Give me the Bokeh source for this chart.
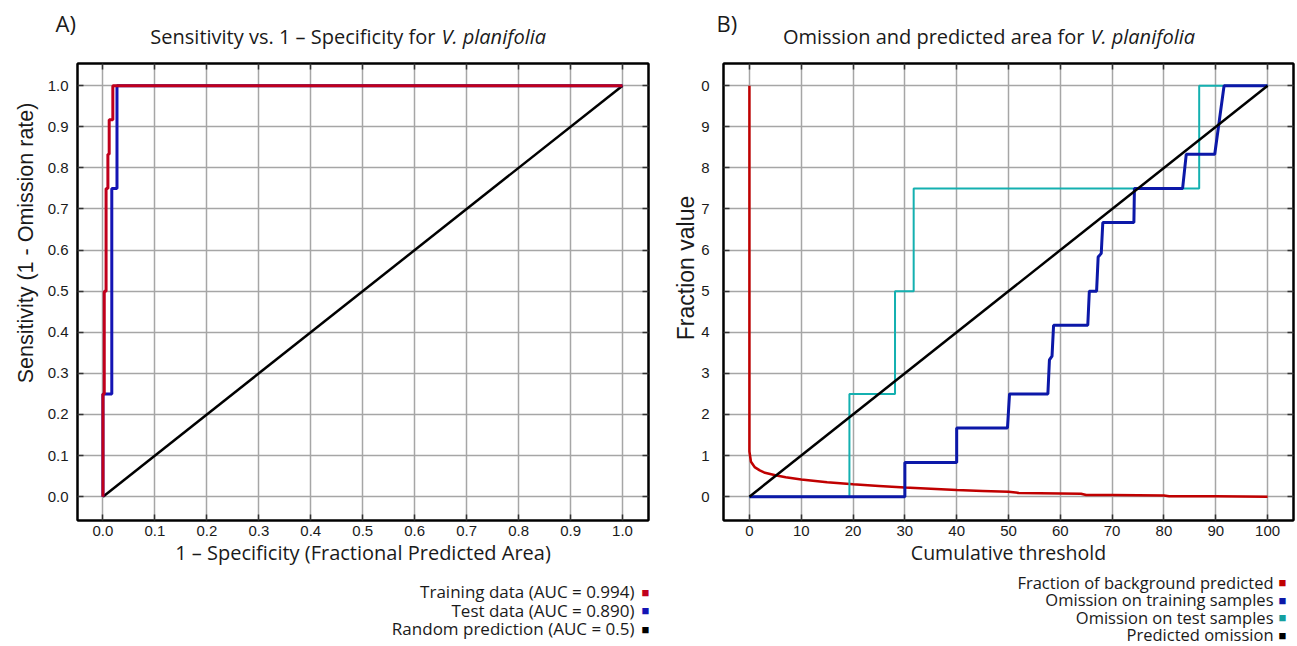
import math
from bokeh.plotting import figure
from bokeh.models import LinearAxis, FixedTicker, Range1d
from bokeh.layouts import row, column
from bokeh.core.properties import value
from bokeh.embed import file_html
from bokeh.resources import INLINE

# ---------------- Panel A data (ROC) ----------------
a_train_x = [0, 0, 0.0025, 0.0025, 0.006, 0.006, 0.0095, 0.0095, 0.012, 0.012, 0.019, 0.019, 1.0]
a_train_y = [0, 0.25, 0.25, 0.5, 0.5, 0.75, 0.75, 0.833, 0.833, 0.917, 0.917, 1.0, 1.0]
a_test_x = [0, 0, 0.017, 0.017, 0.027, 0.027, 1.0]
a_test_y = [0, 0.25, 0.25, 0.75, 0.75, 1.0, 1.0]
a_rand_x = [0, 1.0]
a_rand_y = [0, 1.0]
a_xticks = [0.0, 0.1, 0.2, 0.3, 0.4, 0.5, 0.6, 0.7, 0.8, 0.9, 1.0]
a_xtick_labels = ["0.0", "0.1", "0.2", "0.3", "0.4", "0.5", "0.6", "0.7", "0.8", "0.9", "1.0"]
a_yticks = [0.0, 0.1, 0.2, 0.3, 0.4, 0.5, 0.6, 0.7, 0.8, 0.9, 1.0]
a_ytick_labels = ["0.0", "0.1", "0.2", "0.3", "0.4", "0.5", "0.6", "0.7", "0.8", "0.9", "1.0"]
a_panel = "A)"
a_title = "Sensitivity vs. 1 \u2013 Specificity for"
a_title_it = "V. planifolia"
a_xlabel = "1 \u2013 Specificity (Fractional Predicted Area)"
a_ylabel = "Sensitivity (1 - Omission rate)"
a_legend = ["Training data (AUC = 0.994)", "Test data (AUC = 0.890)", "Random prediction (AUC = 0.5)"]

# ---------------- Panel B data (omission) ----------------
b_bg_x = [0, 0, 0.3, 1, 2, 3, 5, 7, 10, 15, 20, 25, 30, 35, 40, 45, 50, 52, 60, 64, 65, 70, 80, 81, 90, 100]
b_bg_y = [1.0, 0.11, 0.085, 0.072, 0.064, 0.058, 0.052, 0.047, 0.042, 0.035, 0.03, 0.026, 0.022,
          0.019, 0.016, 0.014, 0.012, 0.009, 0.008, 0.007, 0.004, 0.004, 0.003, 0.001, 0.001, 0.0]
b_train_x = [0, 30, 30, 40, 40, 49.8, 50.2, 57.6, 57.9, 58.4, 58.7, 65.3, 65.6, 67.0, 67.3, 67.9, 68.2,
             74.2, 74.3, 83.6, 84.3, 89.8, 91.6, 100]
b_train_y = [0, 0, 0.083, 0.083, 0.167, 0.167, 0.25, 0.25, 0.333, 0.342, 0.417, 0.417, 0.5, 0.5, 0.583,
             0.592, 0.667, 0.667, 0.75, 0.75, 0.833, 0.833, 1.0, 1.0]
b_test_x = [0, 19.3, 19.3, 28.1, 28.1, 31.7, 31.7, 86.8, 86.8, 100]
b_test_y = [0, 0, 0.25, 0.25, 0.5, 0.5, 0.75, 0.75, 1.0, 1.0]
b_pred_x = [0, 100]
b_pred_y = [0, 1.0]
b_xticks = [0, 10, 20, 30, 40, 50, 60, 70, 80, 90, 100]
b_xtick_labels = ["0", "10", "20", "30", "40", "50", "60", "70", "80", "90", "100"]
b_yticks = [0.0, 0.1, 0.2, 0.3, 0.4, 0.5, 0.6, 0.7, 0.8, 0.9, 1.0]
b_ytick_labels = ["0", "1", "2", "3", "4", "5", "6", "7", "8", "9", "0"]
b_panel = "B)"
b_title = "Omission and predicted area for"
b_title_it = "V. planifolia"
b_xlabel = "Cumulative threshold"
b_ylabel = "Fraction value"
b_legend = ["Fraction of background predicted", "Omission on training samples",
            "Omission on test samples", "Predicted omission"]

TXT = "#1a1a1a"
SANS = "Open Sans"
ARIAL = "Liberation Sans"
PAGE_H = 646
HEAD_H = 55
FRAME_BOTTOM = 520


def blank(w, h):
    p = figure(width=w, height=h, x_range=Range1d(0, w), y_range=Range1d(0, h),
               output_backend="svg", toolbar_location=None, x_axis_location=None,
               y_axis_location=None, min_border=0)
    p.outline_line_color = None
    p.grid.visible = False
    p.background_fill_color = "white"
    p.border_fill_color = "white"
    return p


def txt(p, x, y, text, size, font=SANS, style="normal", align="left", angle=0.0, color=TXT):
    # x, y in pixels from the top-left corner of the blank figure
    p.text(x=[x], y=[p.height - y], text=[text], text_font=value(font), text_font_size=value(size),
           text_font_style=style, text_align=align, text_baseline="middle", angle=angle,
           text_color=color)


def main_fig(width, height, bottom, xr, yr, xticks, xlabels, yticks, ylabels, b_left, b_right,
             ystand, xlabel, xlsize):
    p = figure(width=width, height=height, x_range=Range1d(*xr), y_range=Range1d(*yr),
               output_backend="svg", toolbar_location=None,
               min_border_left=b_left, min_border_right=b_right,
               min_border_top=8, min_border_bottom=bottom)
    p.background_fill_color = "white"
    p.border_fill_color = "white"
    p.outline_line_color = "black"
    p.outline_line_width = 2
    p.outline_line_alpha = 1
    for ax, ticks, labels in ((p.xaxis[0], xticks, xlabels), (p.yaxis[0], yticks, ylabels)):
        ax.ticker = FixedTicker(ticks=ticks)
        ax.major_label_overrides = {t: l for t, l in zip(ticks, labels)}
        ax.major_tick_in = 6
        ax.major_tick_out = 0
        ax.minor_tick_line_color = None
        ax.axis_line_color = "black"
        ax.axis_line_width = 2
        ax.major_tick_line_color = "#333333"
        ax.major_tick_line_width = 1.5
        ax.major_label_text_font = ARIAL
        ax.major_label_text_font_size = "15px"
        ax.major_label_text_color = TXT
    p.xaxis[0].major_label_standoff = 5
    p.yaxis[0].major_label_standoff = ystand
    p.xaxis[0].axis_label = xlabel
    p.xaxis[0].axis_label_standoff = 0
    p.xaxis[0].axis_label_text_font = SANS
    p.xaxis[0].axis_label_text_font_size = xlsize
    p.xaxis[0].axis_label_text_font_style = "normal"
    p.xaxis[0].axis_label_text_color = TXT
    for loc, ticks in (("above", xticks), ("right", yticks)):
        ax = LinearAxis(ticker=FixedTicker(ticks=ticks), major_tick_in=6, major_tick_out=0,
                        minor_tick_line_color=None, axis_line_color="black", axis_line_width=2,
                        major_tick_line_color="#333333", major_tick_line_width=1.5,
                        major_label_text_font_size="1px", major_label_text_color=None,
                        major_label_standoff=0)
        p.add_layout(ax, loc)
    p.xgrid.ticker = FixedTicker(ticks=xticks)
    p.ygrid.ticker = FixedTicker(ticks=yticks)
    for g in (p.xgrid[0], p.ygrid[0]):
        g.grid_line_color = "#a6a6a6"
        g.grid_line_width = 1.5
        g.grid_line_alpha = 1
    return p


# ---------------- Panel A ----------------
A_BOTTOM = 52
A_MAIN_H = FRAME_BOTTOM - HEAD_H + A_BOTTOM
A_FOOT_TOP = HEAD_H + A_MAIN_H

ha = blank(650, HEAD_H)
txt(ha, 55, 22, a_panel, "22px")
txt(ha, 435, 36, a_title, "20px", align="right")
txt(ha, 441, 36, a_title_it, "20px", style="italic")

la = blank(44, A_MAIN_H)
txt(la, 25, 258 - HEAD_H, a_ylabel, "21.5px", font=ARIAL, align="center", angle=math.pi / 2)

pa = main_fig(606, A_MAIN_H, A_BOTTOM, (-0.049, 1.05), (-0.058, 1.054), a_xticks, a_xtick_labels,
              a_yticks, a_ytick_labels, 27, 2, 9, a_xlabel, "20px")
pa.line(a_rand_x, a_rand_y, line_color="black", line_width=2.5)
pa.line(a_test_x, a_test_y, line_color="#1414b4", line_width=3)
pa.line(a_train_x, a_train_y, line_color="#c0001c", line_width=3)

fa = blank(650, PAGE_H - A_FOOT_TOP)
a_leg_colors = ["#c0001c", "#1414b4", "black"]
for i, (t, c) in enumerate(zip(a_legend, a_leg_colors)):
    yy = 591 + i * 18.5 - A_FOOT_TOP
    txt(fa, 634, yy, t, "17px", align="right")
    txt(fa, 645, yy, "\u25a0", "13px", align="center", color=c)

# ---------------- Panel B ----------------
B_BOTTOM = 49
B_MAIN_H = FRAME_BOTTOM - HEAD_H + B_BOTTOM
B_FOOT_TOP = HEAD_H + B_MAIN_H

hb = blank(647, HEAD_H)
txt(hb, 66, 22, b_panel, "22px")
txt(hb, 434, 36, b_title, "20px", align="right")
txt(hb, 440, 36, b_title_it, "20px", style="italic")

lb = blank(48, B_MAIN_H)
txt(lb, 35, 285 - HEAD_H, b_ylabel, "23px", font=ARIAL, align="center", angle=math.pi / 2)

pb = main_fig(599, B_MAIN_H, B_BOTTOM, (-5, 105), (-0.058, 1.054), b_xticks, b_xtick_labels,
              b_yticks, b_ytick_labels, 23, 4, 14, b_xlabel, "19.5px")
pb.line(b_bg_x, b_bg_y, line_color="#c00000", line_width=2.5)
pb.line(b_test_x, b_test_y, line_color="#14b0b0", line_width=2)
pb.line(b_train_x, b_train_y, line_color="#0c18a8", line_width=3)
pb.line(b_pred_x, b_pred_y, line_color="black", line_width=2.5)

fb = blank(647, PAGE_H - B_FOOT_TOP)
b_leg_colors = ["#c00000", "#0c18a8", "#14a0a0", "black"]
for i, (t, c) in enumerate(zip(b_legend, b_leg_colors)):
    yy = 581.5 + i * 17.5 - B_FOOT_TOP
    txt(fb, 623, yy, t, "16.5px", align="right")
    txt(fb, 632, yy, "\u25a0", "13px", align="center", color=c)

layout = row(column(ha, row(la, pa), fa), column(hb, row(lb, pb), fb))
open("out.html", "w").write(file_html(layout, INLINE))
